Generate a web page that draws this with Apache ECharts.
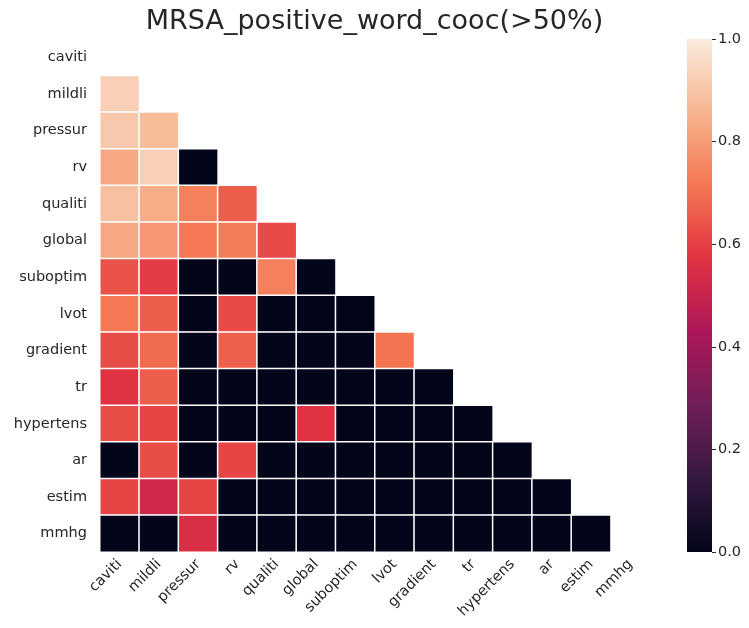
<!DOCTYPE html>
<html>
<head>
<meta charset="utf-8">
<script src="https://cdn.jsdelivr.net/npm/echarts@6/dist/echarts.min.js"></script>
<style>
  html, body { margin: 0; padding: 0; background: #fff; }
  #chart { width: 749px; height: 628px; }
</style>
</head>
<body>
<div id="chart"></div>
<script>
// Word tokens (rows and columns share the same order)
const words = ['caviti', 'mildli', 'pressur', 'rv', 'qualiti', 'global', 'suboptim',
               'lvot', 'gradient', 'tr', 'hypertens', 'ar', 'estim', 'mmhg'];

// Lower-triangle co-occurrence values, one row per word (columns before the diagonal)
const rowMildli    = [0.93];
const rowPressur   = [0.91, 0.88];
const rowRv        = [0.83, 0.93, 0.00];
const rowQualiti   = [0.89, 0.84, 0.74, 0.66];
const rowGlobal    = [0.83, 0.79, 0.72, 0.73, 0.62];
const rowSuboptim  = [0.64, 0.59, 0.00, 0.00, 0.74, 0.00];
const rowLvot      = [0.72, 0.66, 0.00, 0.62, 0.00, 0.00, 0.00];
const rowGradient  = [0.63, 0.69, 0.00, 0.67, 0.00, 0.00, 0.00, 0.71];
const rowTr        = [0.57, 0.66, 0.00, 0.00, 0.00, 0.00, 0.00, 0.00, 0.00];
const rowHypertens = [0.63, 0.61, 0.00, 0.00, 0.00, 0.57, 0.00, 0.00, 0.00, 0.00];
const rowAr        = [0.00, 0.63, 0.00, 0.61, 0.00, 0.00, 0.00, 0.00, 0.00, 0.00, 0.00];
const rowEstim     = [0.61, 0.52, 0.61, 0.00, 0.00, 0.00, 0.00, 0.00, 0.00, 0.00, 0.00, 0.00];
const rowMmhg      = [0.00, 0.00, 0.55, 0.00, 0.00, 0.00, 0.00, 0.00, 0.00, 0.00, 0.00, 0.00, 0.00];

const rows = [[], rowMildli, rowPressur, rowRv, rowQualiti, rowGlobal, rowSuboptim,
              rowLvot, rowGradient, rowTr, rowHypertens, rowAr, rowEstim, rowMmhg];

// Colour-bar range
const cbarMin = 0;
const cbarMax = 1;

// "rocket" colour map, sampled evenly from 0 to 1
const rocket = ['#03051a', '#35193e', '#701f57', '#ad1759',
                '#e13342', '#f37651', '#f6b48f', '#faebdd'];

const cells = [];
rows.forEach((vals, i) => {
  vals.forEach((v, j) => cells.push([j, i, v]));
});

const textColor = '#262626';
const font = 'DejaVu Sans';

const chart = echarts.init(document.getElementById('chart'));
chart.setOption({
  animation: false,
  backgroundColor: '#fff',
  title: {
    text: 'MRSA_positive_word_cooc(>50%)',
    left: 'center',
    top: 3,
    textStyle: { fontFamily: font, fontSize: 27, fontWeight: 'normal', color: textColor }
  },
  grid: [
    { left: 100, top: 39, width: 550, height: 513 },
    { left: 687, top: 39, width: 25, height: 513 }
  ],
  xAxis: [
    {
      type: 'category', gridIndex: 0, data: words,
      axisLine: { show: false }, axisTick: { show: false }, splitLine: { show: false },
      axisLabel: { rotate: 45, margin: 10, fontFamily: font, fontSize: 14.5, color: textColor, interval: 0 }
    },
    {
      type: 'category', gridIndex: 1, data: ['c'],
      show: false
    }
  ],
  yAxis: [
    {
      type: 'category', gridIndex: 0, data: words, inverse: true,
      axisLine: { show: false }, axisTick: { show: false }, splitLine: { show: false },
      axisLabel: { margin: 13, fontFamily: font, fontSize: 14.5, color: textColor, interval: 0 }
    },
    {
      type: 'value', gridIndex: 1, min: cbarMin, max: cbarMax, interval: 0.2, position: 'right',
      axisLine: { show: false }, splitLine: { show: false },
      axisTick: { show: true, length: 4, lineStyle: { color: textColor, width: 1 } },
      axisLabel: {
        margin: 6, fontFamily: font, fontSize: 14.5, color: textColor,
        formatter: v => v.toFixed(1)
      }
    }
  ],
  visualMap: {
    show: false, type: 'continuous', seriesIndex: 0,
    min: cbarMin, max: cbarMax,
    inRange: { color: rocket }
  },
  series: [
    {
      type: 'heatmap', xAxisIndex: 0, yAxisIndex: 0,
      data: cells,
      itemStyle: { borderColor: '#ffffff', borderWidth: 1.5 },
      emphasis: { disabled: true }
    },
    {
      type: 'bar', xAxisIndex: 1, yAxisIndex: 1,
      data: [cbarMax], barWidth: '100%',
      itemStyle: {
        color: new echarts.graphic.LinearGradient(0, 1, 0, 0,
          rocket.map((c, k) => ({ offset: k / (rocket.length - 1), color: c })))
      },
      silent: true
    }
  ]
});
</script>
</body>
</html>
